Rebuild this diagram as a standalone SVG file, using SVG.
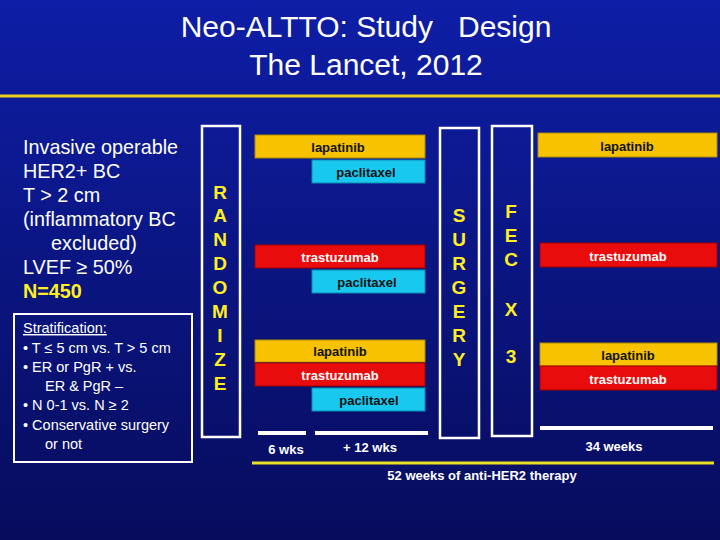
<svg xmlns="http://www.w3.org/2000/svg" width="720" height="540" viewBox="0 0 720 540">
<defs>
<linearGradient id="bg" x1="0" y1="0" x2="0" y2="1"><stop offset="0" stop-color="#0e1ea6"/><stop offset="1" stop-color="#070c5c"/></linearGradient>
<style>
text{font-family:"Liberation Sans",Arial,sans-serif}
.lp{fill:#f7c200;stroke:#b08a00;stroke-width:1}
.tr{fill:#e80c0c;stroke:#a00000;stroke-width:1}
.pc{fill:#19c8ee;stroke:#0a8cb0;stroke-width:1}
.bl{font-size:13px;font-weight:bold;fill:#111;text-anchor:middle}
.bw{font-size:13px;font-weight:bold;fill:#fff;text-anchor:middle}
.box{fill:none;stroke:#fff;stroke-width:2.5}
.vt{font-size:19px;font-weight:bold;fill:#ffee22;text-anchor:middle}
.lt{font-size:19.8px;fill:#fff}
.st{font-size:14.5px;fill:#fff}
.wl{stroke:#fff;stroke-width:4}
.wt{font-size:13px;font-weight:bold;fill:#fff;text-anchor:middle}
</style>
</defs>
<rect width="720" height="540" fill="url(#bg)"/>
<text x="366" y="37" text-anchor="middle" font-size="30" fill="#fff" xml:space="preserve">Neo-ALTTO: Study   Design</text>
<text x="366" y="75" text-anchor="middle" font-size="30" fill="#fff">The Lancet, 2012</text>
<line x1="0" y1="96" x2="720" y2="96" stroke="#e8d020" stroke-width="3"/>
<g id="criteria">
<text class="lt" x="23" y="154">Invasive operable</text>
<text class="lt" x="23" y="178">HER2+ BC</text>
<text class="lt" x="23" y="202">T &gt; 2 cm</text>
<text class="lt" x="23" y="226">(inflammatory BC</text>
<text class="lt" x="51" y="250">excluded)</text>
<text class="lt" x="23" y="274">LVEF ≥ 50%</text>
<text class="lt" x="23" y="298" font-weight="bold" style="fill:#ffee22">N=450</text>
</g>
<g id="stratification">
<rect x="14" y="314" width="178" height="148" fill="none" stroke="#fff" stroke-width="2"/>
<text class="st" x="23" y="333" text-decoration="underline">Stratification:</text>
<text class="st" x="23" y="353">• T ≤ 5 cm vs. T &gt; 5 cm</text>
<text class="st" x="23" y="372">• ER or PgR + vs.</text>
<text class="st" x="45" y="391">ER &amp; PgR –</text>
<text class="st" x="23" y="410">• N 0-1 vs. N ≥ 2</text>
<text class="st" x="23" y="430">• Conservative surgery</text>
<text class="st" x="45" y="449">or not</text>
</g>
<g id="randomize">
<rect class="box" x="202" y="126" width="38" height="311"/>
<text class="vt" x="220" y="199">R</text><text class="vt" x="220" y="222">A</text><text class="vt" x="220" y="246">N</text><text class="vt" x="220" y="270">D</text><text class="vt" x="220" y="294">O</text><text class="vt" x="220" y="318">M</text><text class="vt" x="220" y="342">I</text><text class="vt" x="220" y="366">Z</text><text class="vt" x="220" y="390">E</text>
</g>
<g id="surgery">
<rect class="box" x="440" y="128" width="39" height="310"/>
<text class="vt" x="459" y="222">S</text><text class="vt" x="459" y="246">U</text><text class="vt" x="459" y="270">R</text><text class="vt" x="459" y="294">G</text><text class="vt" x="459" y="318">E</text><text class="vt" x="459" y="342">R</text><text class="vt" x="459" y="366">Y</text>
</g>
<g id="fec">
<rect class="box" x="492" y="126" width="40" height="310"/>
<text class="vt" x="511" y="218">F</text><text class="vt" x="511" y="242">E</text><text class="vt" x="511" y="266">C</text><text class="vt" x="511" y="316">X</text><text class="vt" x="511" y="363">3</text>
</g>
<g id="arm1">
<rect class="lp" x="255" y="135" width="170" height="23"/><text class="bl" x="338" y="152">lapatinib</text>
<rect class="pc" x="312" y="160" width="113" height="23"/><text class="bl" x="366" y="177">paclitaxel</text>
<rect class="lp" x="538" y="133" width="179" height="24"/><text class="bl" x="627" y="151">lapatinib</text>
</g>
<g id="arm2">
<rect class="tr" x="255" y="245" width="170" height="23"/><text class="bw" x="340" y="262">trastuzumab</text>
<rect class="pc" x="312" y="270" width="113" height="23"/><text class="bl" x="367" y="287">paclitaxel</text>
<rect class="tr" x="540" y="243" width="177" height="24"/><text class="bw" x="628" y="261">trastuzumab</text>
</g>
<g id="arm3">
<rect class="lp" x="255" y="340" width="170" height="22"/><text class="bl" x="340" y="356">lapatinib</text>
<rect class="tr" x="255" y="363" width="170" height="23"/><text class="bw" x="340" y="380">trastuzumab</text>
<rect class="pc" x="312" y="388" width="113" height="23"/><text class="bl" x="369" y="405">paclitaxel</text>
<rect class="lp" x="540" y="343" width="177" height="23"/><text class="bl" x="628" y="360">lapatinib</text>
<rect class="tr" x="540" y="366" width="177" height="24"/><text class="bw" x="628" y="384">trastuzumab</text>
</g>
<g id="timeline">
<line class="wl" x1="258" y1="433" x2="306" y2="433"/>
<line class="wl" x1="315" y1="433" x2="428" y2="433"/>
<line class="wl" x1="540" y1="428" x2="713" y2="428"/>
<line x1="252" y1="463" x2="714" y2="463" stroke="#e8e020" stroke-width="3"/>
<text class="wt" x="286" y="454">6 wks</text>
<text class="wt" x="370" y="452">+ 12 wks</text>
<text class="wt" x="614" y="451">34 weeks</text>
<text class="wt" x="482" y="480">52 weeks of anti-HER2 therapy</text>
</g>
</svg>
